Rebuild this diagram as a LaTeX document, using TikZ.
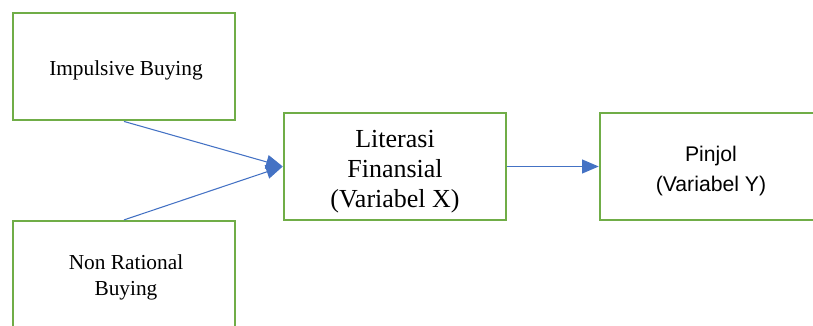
\documentclass[tikz,border=0pt]{standalone}
\usepackage{fontspec}
\setmainfont{Liberation Serif}
\newfontfamily\arialfont{Liberation Sans}
\usetikzlibrary{arrows.meta}
\definecolor{boxgreen}{HTML}{70AD47}
\definecolor{arrowblue}{HTML}{4472C4}
\tikzset{
  varbox/.style={draw=boxgreen, line width=1.9pt, fill=none, inner sep=0pt,
    minimum width=166.5pt, minimum height=80.5pt},
  lbl/.style={inner sep=0pt, align=center, text=black},
  conn/.style={draw=arrowblue, line width=0.8pt,
    -{Triangle[length=12.5pt,width=10.5pt]}},
  plain/.style={draw=arrowblue, line width=0.8pt}
}
\begin{document}
\begin{tikzpicture}[x=0.75pt,y=-0.75pt]
\useasboundingbox (0,0) rectangle (813,325);
\clip (0,0) rectangle (813,325);
% boxes
\node[varbox] (b1) at (124,66.5) {};
\node[varbox, minimum height=86pt] (b2) at (124,278.5) {};
\node[varbox] (b3) at (395,166.5) {};
\node[varbox] (b4) at (711,166.5) {};
% texts
\node[lbl, anchor=base, font=\fontsize{16}{19.5}\selectfont] (t1) at (126,75) {Impulsive Buying};
\node[lbl, font=\fontsize{16}{19.5}\selectfont] (t2) at (126,277) {Non Rational\\Buying};
\node[lbl, font=\fontsize{19.5}{22.5}\selectfont] (t3) at (395,172) {Literasi\\Finansial\\(Variabel X)};
\node[lbl, font=\arialfont\fontsize{15.9}{22.5}\selectfont] (t4) at (711,171) {Pinjol\\(Variabel Y)};
% connectors
\coordinate (tip) at (b3.west);
\draw[conn] (b1.south) -- (tip);
\draw[conn] (b2.north) -- (tip);
\draw[conn] (b3.east) -- (b4.west);
\end{tikzpicture}
\end{document}
